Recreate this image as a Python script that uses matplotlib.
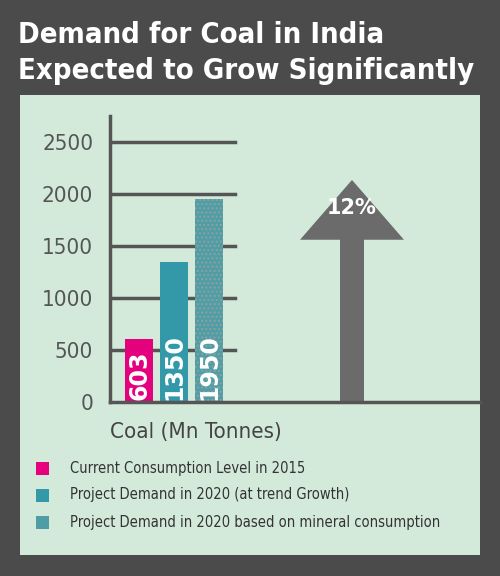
import matplotlib.pyplot as plt
from matplotlib.patches import Rectangle, FancyArrow

values = [603, 1350, 1950]
labels = ["603", "1350", "1950"]
colors = ["#e5007d", "#3399a9", "#4f9ea6"]
legend_text = [
    "Current Consumption Level in 2015",
    "Project Demand in 2020 (at trend Growth)",
    "Project Demand in 2020 based on mineral consumption",
]
yticks = [0, 500, 1000, 1500, 2000, 2500]
growth = "12%"

W, H = 500, 576
fig = plt.figure(figsize=(5, 5.76), dpi=100, facecolor="#4b4b4b")

# light green panel as a background axes
bg = fig.add_axes([20 / W, 1 - 555 / H, 460 / W, 460 / H], zorder=-10)
bg.set_facecolor("#d3eadb")
bg.set_xticks([])
bg.set_yticks([])
for s in bg.spines.values():
    s.set_visible(False)

fig.text(18 / W, 1 - 35 / H, "Demand for Coal in India", color="white",
         fontsize=21, fontweight="bold", fontstretch="condensed", va="center")
fig.text(18 / W, 1 - 71 / H, "Expected to Grow Significantly", color="white",
         fontsize=21, fontweight="bold", fontstretch="condensed", va="center")

ax = fig.add_axes([110 / W, 1 - 402 / H, 370 / W, 286 / H], zorder=1)
ax.set_facecolor("none")
ax.set_xlim(0, 370)
ax.set_ylim(0, 2750)
for s in ["top", "right"]:
    ax.spines[s].set_visible(False)
for s in ["left", "bottom"]:
    ax.spines[s].set_color("#555555")
    ax.spines[s].set_linewidth(2.5)
ax.set_xticks([])
ax.set_yticks(yticks)
ax.tick_params(axis="y", length=0, labelsize=16, labelcolor="#555555", pad=12)
for t in ax.get_yticklabels():
    t.set_fontstretch("condensed")
for y in yticks[1:]:
    ax.plot([0, 125], [y, y], color="#555555", lw=2.5, zorder=1)

xs = [29, 64, 99]
for i, (x, v) in enumerate(zip(xs, values)):
    ax.bar(x, v, width=28, color=colors[i], zorder=2,
           hatch="...." if i == 2 else None,
           edgecolor="#8fa0a0" if i == 2 else colors[i], lw=0)
    ax.text(x, 15, labels[i], rotation=90, color="white", fontsize=17,
            fontweight="bold", ha="center", va="bottom", zorder=3)

ax.add_patch(FancyArrow(242, 0, 0, 2135, width=24, head_width=104,
                        head_length=575, length_includes_head=True,
                        facecolor="#6b6b6b", edgecolor="none", zorder=2))
ax.text(242, 1870, growth, color="white", fontsize=15, fontweight="bold",
        ha="center", va="center", zorder=3)

fig.text(110 / W, 1 - 432 / H, "Coal (Mn Tonnes)", color="#444444",
         fontsize=16, fontstretch="condensed", va="center")

for i, t in enumerate(legend_text):
    yy = 468 + 27 * i
    fig.patches.append(Rectangle((36 / W, 1 - (yy + 7) / H), 13 / W, 13 / H,
                                 transform=fig.transFigure, facecolor=colors[i],
                                 edgecolor="none"))
    fig.text(70 / W, 1 - yy / H, t, color="#333333", fontsize=10.5,
             fontstretch="condensed", va="center")

fig.savefig("out.png", dpi=100, facecolor=fig.get_facecolor())
